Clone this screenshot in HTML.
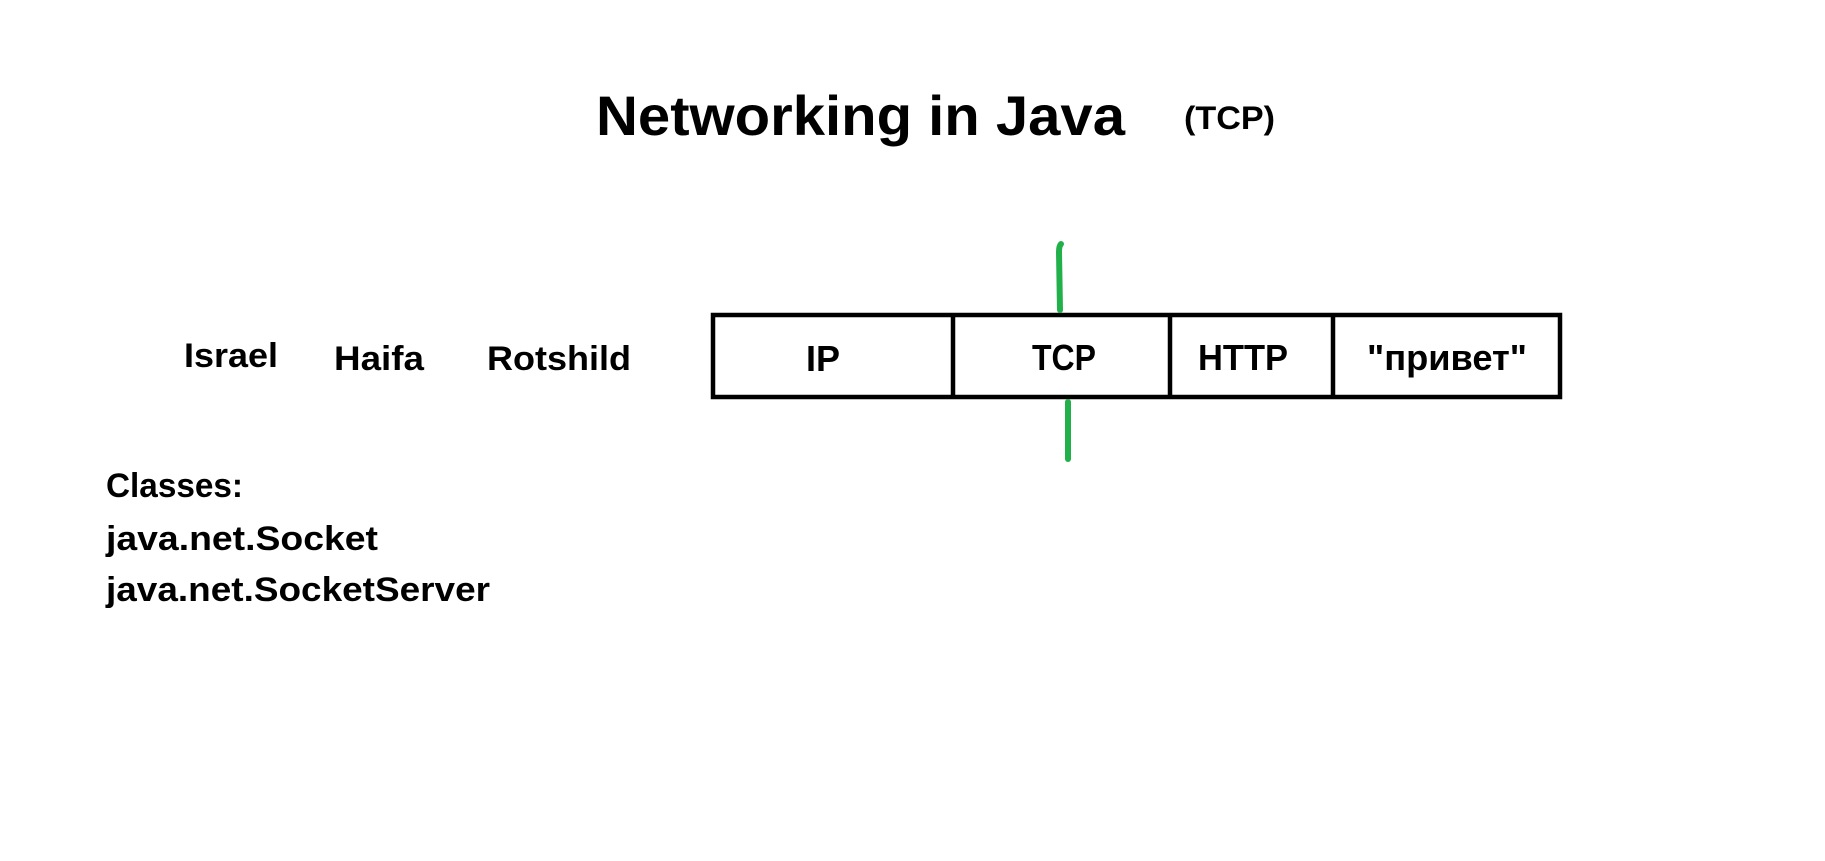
<!DOCTYPE html>
<html><head><meta charset="utf-8"><style>html,body{margin:0;padding:0;background:#fff;}svg{display:block}</style></head>
<body>
<svg width="1825" height="861" viewBox="0 0 1825 861" xmlns="http://www.w3.org/2000/svg" font-family="Liberation Sans, Noto Sans CJK SC, sans-serif" font-weight="bold" fill="#000">
<g transform="translate(-4,0)">
<text x="600" y="135" font-size="56" textLength="529" lengthAdjust="spacingAndGlyphs">Networking in Java</text>
<text x="1188" y="129" font-size="32" textLength="91" lengthAdjust="spacingAndGlyphs">(TCP)</text>
<text x="188" y="367" font-size="34" textLength="94" lengthAdjust="spacingAndGlyphs">Israel</text>
<text x="338" y="370" font-size="34" textLength="90" lengthAdjust="spacingAndGlyphs">Haifa</text>
<text x="491" y="370" font-size="34" textLength="144" lengthAdjust="spacingAndGlyphs">Rotshild</text>
<g fill="none" stroke="#000" stroke-width="4.5">
<rect x="717" y="315" width="847" height="82"/>
<line x1="957" y1="315" x2="957" y2="397"/>
<line x1="1174" y1="315" x2="1174" y2="399"/>
<line x1="1337" y1="315" x2="1337" y2="399"/>
</g>
<text x="827" y="371" font-size="36" text-anchor="middle">IP</text>
<text x="1068" y="370" font-size="36" text-anchor="middle" textLength="64" lengthAdjust="spacingAndGlyphs">TCP</text>
<text x="1247" y="370" font-size="36" text-anchor="middle" textLength="90" lengthAdjust="spacingAndGlyphs">HTTP</text>
<text x="1451" y="370" font-size="36" text-anchor="middle" textLength="160" lengthAdjust="spacingAndGlyphs">"привет"</text>
<g stroke="#22b04b" stroke-width="6" stroke-linecap="round" fill="none">
<path d="M1065 244 Q1063 246 1063 252 L1064 310"/>
<line x1="1072" y1="402" x2="1072" y2="459"/>
</g>
</g>
<text x="106" y="497" font-size="34" textLength="137" lengthAdjust="spacingAndGlyphs">Classes:</text>
<text x="106" y="550" font-size="34" textLength="272" lengthAdjust="spacingAndGlyphs">java.net.Socket</text>
<text x="106" y="601" font-size="34" textLength="384" lengthAdjust="spacingAndGlyphs">java.net.SocketServer</text>
</svg>
</body></html>
